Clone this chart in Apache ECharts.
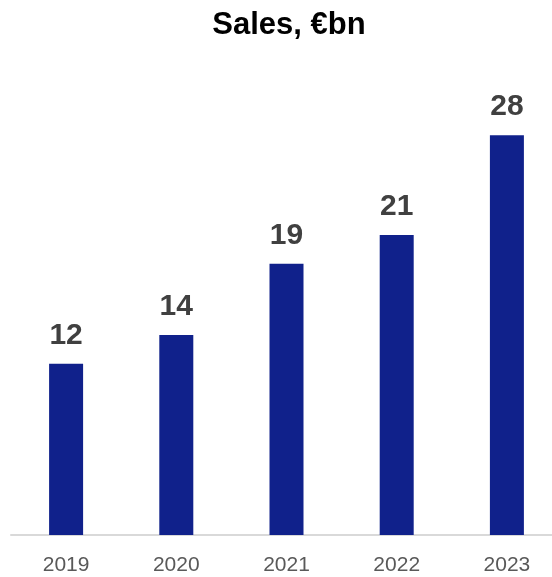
<!DOCTYPE html>
<html>
<head>
<meta charset="utf-8">
<script src="https://cdn.jsdelivr.net/npm/echarts@6/dist/echarts.min.js"></script>
<style>
  html, body { margin: 0; padding: 0; background: #ffffff; }
  #chart { width: 552px; height: 577px; }
</style>
</head>
<body>
<div id="chart"></div>
<script>
// Annual sales, in billions of euros
const years = ['2019', '2020', '2021', '2022', '2023'];
const sales = [12, 14, 19, 21, 28];

const chart = echarts.init(document.getElementById('chart'), null, { renderer: 'canvas' });

chart.setOption({
  animation: false,
  backgroundColor: '#ffffff',
  title: {
    text: 'Sales, €bn',
    left: 284,
    top: 5,
    textAlign: 'center',
    textStyle: {
      fontFamily: 'Liberation Sans, Arial, sans-serif',
      fontSize: 31,
      fontWeight: 'bold',
      color: '#000000'
    }
  },
  grid: {
    left: 11,
    width: 551,
    top: 78,
    bottom: 42,
    containLabel: false,
    outerBoundsMode: 'none'
  },
  xAxis: {
    type: 'category',
    data: years,
    axisLine: { show: true, lineStyle: { color: '#d9d9d9', width: 2 } },
    axisTick: { show: false },
    axisLabel: {
      margin: 20,
      fontFamily: 'Liberation Sans, Arial, sans-serif',
      fontSize: 21,
      color: '#595959'
    }
  },
  yAxis: {
    type: 'value',
    min: 0,
    max: 32,
    show: false,
    splitLine: { show: false }
  },
  series: [{
    type: 'bar',
    data: sales,
    barWidth: 34,
    itemStyle: { color: '#10218b' },
    label: {
      show: true,
      position: 'top',
      distance: 13,
      fontFamily: 'Liberation Sans, Arial, sans-serif',
      fontSize: 30,
      fontWeight: 'bold',
      color: '#404040'
    }
  }]
});
</script>
</body>
</html>
